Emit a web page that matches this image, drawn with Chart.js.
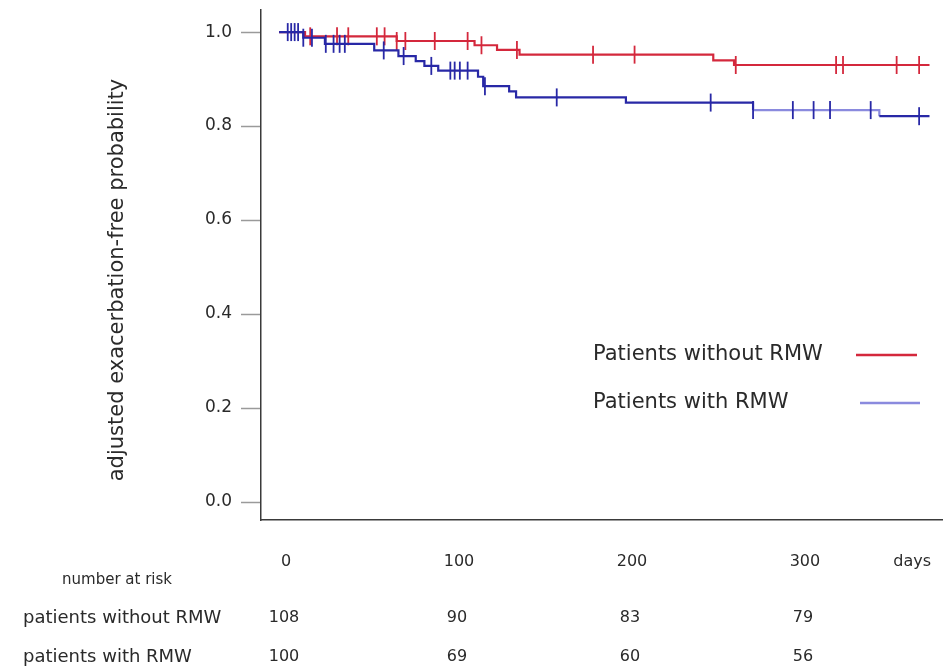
<!DOCTYPE html>
<html>
<head>
<meta charset="utf-8">
<script src="https://cdn.jsdelivr.net/npm/chart.js@4"></script>
<style>
  html, body { margin: 0; padding: 0; background: #ffffff; }
  #wrap { width: 943px; height: 668px; }
</style>
</head>
<body>
<div id="wrap"><canvas id="c" width="943" height="668"></canvas></div>
<script>
// ---- data ----
const seriesNames = ['Patients without RMW', 'Patients with RMW'];

const withoutTimes = [-4, 11, 64, 109, 122, 135, 247, 259, 372];
const withoutSurv  = [1.0, 0.991, 0.981, 0.972, 0.962, 0.952, 0.940, 0.930, 0.930];
const withoutCensor = [14, 29.5, 36, 52.5, 57, 64, 69, 86, 105, 113, 133.5, 177.5, 201.5, 260, 318, 322, 353, 366];

const withTimes = [-4, 10, 22.5, 51, 65, 75, 80, 88, 111, 114, 129, 133, 196.5, 270, 343, 372];
const withSurv  = [1.0, 0.988, 0.975, 0.961, 0.949, 0.938, 0.928, 0.918, 0.905, 0.885, 0.874, 0.861, 0.850, 0.834, 0.821, 0.821];
const withCensor = [1, 3, 5, 7, 10, 15, 23, 27.5, 31, 34, 56.5, 68, 84, 95, 97.5, 100.5, 105, 115, 156.5, 245.5, 270, 293, 305, 314.5, 338, 366];

const xTickValues = [0, 100, 200, 300, 362];
const xTickLabels = ['0', '100', '200', '300', 'days'];
const yTickValues = [0, 0.2, 0.4, 0.6, 0.8, 1.0];

const yTitle = 'adjusted exacerbation-free probability';
const riskTitle = 'number at risk';
const riskRowLabels = ['patients without RMW', 'patients with RMW'];
const riskTimes = [0, 100, 200, 300];
const riskWithout = [108, 90, 83, 79];
const riskWith = [100, 69, 60, 56];

// ---- styles ----
const RED = '#d4283c';
const BLUE = '#2828a6';
const BLUE_LIGHT = '#8a8ade';
const TEXT = '#2a2a2a';
const FONT = "'DejaVu Sans', sans-serif";

function stepValue(times, surv, t) {
  let v = surv[0];
  for (let i = 0; i < times.length; i++) { if (times[i] <= t) v = surv[i]; }
  return v;
}
const toPts = (ts, ss) => ts.map((t, i) => ({ x: t, y: ss[i] }));
const censorPts = (cs, ts, ss) => cs.map(t => ({ x: t, y: stepValue(ts, ss, t) }));

Chart.defaults.font.family = FONT;

const overlay = {
  id: 'overlay',
  afterDraw(chart) {
    const ctx = chart.ctx;
    const xs = chart.scales.x;
    ctx.save();
    ctx.fillStyle = TEXT;
    // y-axis title
    ctx.save();
    ctx.translate(118, 280);
    ctx.rotate(-Math.PI / 2);
    ctx.font = '21px ' + FONT;
    ctx.textAlign = 'center';
    ctx.textBaseline = 'middle';
    ctx.fillText(yTitle, 0, 0);
    ctx.restore();

    // legend
    const legendColors = [RED, BLUE_LIGHT];
    const legendY = [355, 403];
    const lineX = [[856, 917], [860, 920]];
    ctx.font = '21px ' + FONT;
    ctx.textAlign = 'left';
    ctx.textBaseline = 'middle';
    seriesNames.forEach((name, i) => {
      ctx.fillStyle = TEXT;
      ctx.fillText(name, 593, legendY[i]);
      ctx.strokeStyle = legendColors[i];
      ctx.lineWidth = 2.5;
      ctx.beginPath();
      ctx.moveTo(lineX[i][0], legendY[i]);
      ctx.lineTo(lineX[i][1], legendY[i]);
      ctx.stroke();
    });

    // number at risk table
    ctx.fillStyle = TEXT;
    ctx.font = '15px ' + FONT;
    ctx.textAlign = 'center';
    ctx.fillText(riskTitle, 117, 580);
    ctx.font = '18px ' + FONT;
    ctx.textAlign = 'left';
    ctx.fillText(riskRowLabels[0], 23, 618);
    ctx.fillText(riskRowLabels[1], 23, 657);
    ctx.font = '16px ' + FONT;
    ctx.textAlign = 'center';
    riskTimes.forEach((t, i) => {
      const px = xs.getPixelForValue(t);
      ctx.fillText(String(riskWithout[i]), px - 2, 618);
      ctx.fillText(String(riskWith[i]), px - 2, 657);
    });
    ctx.restore();
  }
};

new Chart(document.getElementById('c'), {
  type: 'line',
  data: {
    datasets: [
      {
        label: seriesNames[1],
        data: toPts(withTimes, withSurv),
        stepped: true,
        borderColor: BLUE,
        borderWidth: 2.2,
        pointRadius: 0,
        fill: false,
        order: 1,
        segment: {
          borderColor: c => (c.p0.parsed.x >= 270 && c.p0.parsed.x < 343) ? BLUE_LIGHT : undefined
        }
      },
      {
        label: seriesNames[1] + ' censored',
        type: 'scatter',
        data: censorPts(withCensor, withTimes, withSurv),
        showLine: false,
        pointStyle: 'line',
        rotation: 90,
        pointRadius: 9,
        borderColor: BLUE,
        borderWidth: 1.8,
        order: 0
      },
      {
        label: seriesNames[0],
        data: toPts(withoutTimes, withoutSurv),
        stepped: true,
        borderColor: RED,
        borderWidth: 2.2,
        pointRadius: 0,
        fill: false,
        order: 3
      },
      {
        label: seriesNames[0] + ' censored',
        type: 'scatter',
        data: censorPts(withoutCensor, withoutTimes, withoutSurv),
        showLine: false,
        pointStyle: 'line',
        rotation: 90,
        pointRadius: 9,
        borderColor: RED,
        borderWidth: 1.8,
        order: 2
      }
    ]
  },
  options: {
    responsive: false,
    animation: false,
    layout: { autoPadding: false, padding: { top: 10, right: 0, left: 0, bottom: 0 } },
    plugins: { legend: { display: false }, tooltip: { enabled: false } },
    scales: {
      x: {
        type: 'linear',
        min: -14.45,
        max: 379.8,
        afterBuildTicks: s => { s.ticks = xTickValues.map(v => ({ value: v })); },
        afterFit: s => { s.height = 148; s.paddingLeft = 0; s.paddingRight = 0; },
        grid: { display: false, drawTicks: false, tickLength: 0 },
        border: { display: true, color: '#3a3a3a', width: 1.5 },
        ticks: {
          autoSkip: false,
          maxRotation: 0,
          padding: 32,
          color: TEXT,
          font: { size: 16 },
          callback: (v, i) => xTickLabels[i]
        }
      },
      y: {
        type: 'linear',
        min: -0.0383,
        max: 1.047,
        afterBuildTicks: s => { s.ticks = yTickValues.map(v => ({ value: v })); },
        afterFit: s => { s.width = 261; s.paddingTop = 0; s.paddingBottom = 0; },
        grid: { drawOnChartArea: false, drawTicks: true, tickLength: 20, tickColor: '#9a9a9a', tickWidth: 1.5 },
        border: { display: true, color: '#3a3a3a', width: 1.5 },
        ticks: {
          padding: 9,
          color: TEXT,
          font: { size: 17 },
          callback: v => Number(v).toFixed(1)
        }
      }
    }
  },
  plugins: [overlay]
});
</script>
</body>
</html>
